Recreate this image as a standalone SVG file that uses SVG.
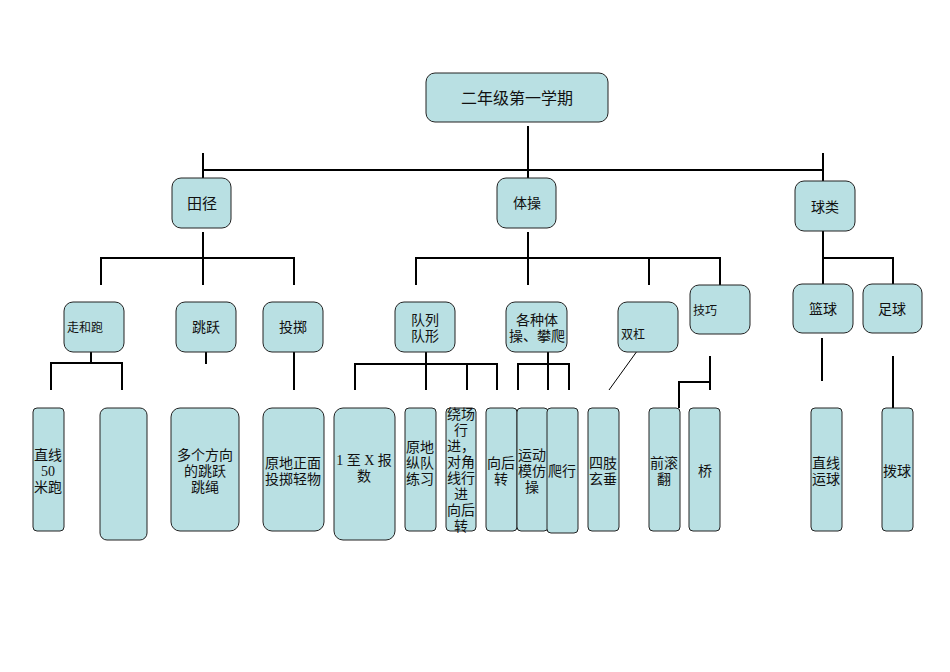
<svg xmlns="http://www.w3.org/2000/svg" width="950" height="672" viewBox="0 0 950 672">
<style>
rect{fill:#b9e0e3;stroke:#222;stroke-width:1}
text{font-family:"Liberation Serif","Noto Sans CJK SC",serif;font-size:14px;fill:#111;text-anchor:middle}
.s{font-size:12px;text-anchor:start}
.c line,.c polyline{stroke:#000;stroke-width:2;fill:none}
</style>
<rect width="950" height="672" style="fill:#fff;stroke:none"/>
<g class="c" id="connectors">
<line x1="528" y1="126" x2="528" y2="178"/>
<polyline points="203,153 203,178"/><polyline points="823,153 823,181"/>
<line x1="202" y1="170" x2="824" y2="170"/>
<line x1="203" y1="232" x2="203" y2="285"/><polyline points="101,285 101,258 294,258 294,285"/>
<line x1="528" y1="232" x2="528" y2="285"/><polyline points="416,285 416,258 720,258 720,285"/><line x1="649" y1="258" x2="649" y2="285"/>
<polyline points="823,231 823,284"/><polyline points="823,258 893,258 893,284"/>
<line x1="91" y1="338" x2="91" y2="363"/><polyline points="51,390 51,363 122,363 122,390"/>
<line x1="206" y1="338" x2="206" y2="364"/>
<line x1="294" y1="338" x2="294" y2="390"/>
<line x1="426" y1="338" x2="426" y2="390"/><polyline points="355,390 355,364 497,364 497,390"/><line x1="467" y1="364" x2="467" y2="390"/>
<line x1="548" y1="338" x2="548" y2="390"/><polyline points="518,390 518,364 569,364 569,390"/>
<line x1="640" y1="347" x2="609" y2="390" style="stroke-width:1"/>
<line x1="710" y1="356" x2="710" y2="390"/><polyline points="679,408 679,382 710,382"/>
<line x1="822" y1="338" x2="822" y2="381"/>
<line x1="893" y1="356" x2="893" y2="408"/>
</g>
<g id="root"><rect x="426" y="73" width="182" height="49" rx="9"/><text x="517" y="104" style="font-size:16px">二年级第一学期</text></g>
<g id="tianjing"><rect x="172" y="178" width="59" height="50" rx="9"/><text x="202" y="209" style="font-size:15px">田径</text></g>
<g id="ticao"><rect x="497" y="178" width="59" height="50" rx="9"/><text x="527" y="208">体操</text></g>
<g id="qiulei"><rect x="795" y="181" width="60" height="50" rx="9"/><text x="825" y="212">球类</text></g>
<g id="zouhepao"><rect x="64" y="302" width="60" height="50" rx="9"/><text class="s" x="67" y="332">走和跑</text></g>
<g id="tiaoyue"><rect x="176" y="302" width="60" height="50" rx="9"/><text x="206" y="332">跳跃</text></g>
<g id="touzhi"><rect x="263" y="302" width="60" height="50" rx="9"/><text x="293" y="332">投掷</text></g>
<g id="duilie"><rect x="395" y="302" width="60" height="50" rx="9"/><text x="425" y="325">队列</text><text x="425" y="341">队形</text></g>
<g id="gezhong"><rect x="506" y="302" width="61" height="50" rx="9"/><text x="537" y="325">各种体</text><text x="537" y="341">操、攀爬</text></g>
<g id="shuanggang"><rect x="618" y="302" width="60" height="50" rx="9"/><text class="s" x="621" y="339">双杠</text></g>
<g id="jiqiao"><rect x="690" y="285" width="60" height="49" rx="9"/><text class="s" x="693" y="315">技巧</text></g>
<g id="lanqiu"><rect x="793" y="284" width="60" height="49" rx="9"/><text x="823" y="314">篮球</text></g>
<g id="zuqiu"><rect x="863" y="284" width="59" height="49" rx="9"/><text x="892" y="314">足球</text></g>
<g id="leaf1"><rect x="33" y="408" width="31" height="123" rx="4"/><text x="48" y="460">直线</text><text x="48" y="476">50</text><text x="48" y="492">米跑</text></g>
<g id="leaf2"><rect x="100" y="408" width="47" height="132" rx="7"/></g>
<g id="leaf3"><rect x="171" y="408" width="68" height="123" rx="9"/><text x="205" y="460">多个方向</text><text x="205" y="476">的跳跃</text><text x="205" y="492">跳绳</text></g>
<g id="leaf4"><rect x="263" y="408" width="61" height="123" rx="9"/><text x="293" y="468">原地正面</text><text x="293" y="484">投掷轻物</text></g>
<g id="leaf5"><rect x="334" y="408" width="61" height="132" rx="9"/><text x="364" y="465">1 至 X 报</text><text x="364" y="481">数</text></g>
<g id="leaf6"><rect x="405" y="408" width="31" height="123" rx="4"/><text x="420" y="452">原地</text><text x="420" y="468">纵队</text><text x="420" y="484">练习</text></g>
<g id="leaf7"><rect x="446" y="408" width="30" height="123" rx="4"/><text x="461" y="419">绕场</text><text x="461" y="435">行</text><text x="461" y="451">进，</text><text x="461" y="467">对角</text><text x="461" y="483">线行</text><text x="461" y="499">进</text><text x="461" y="515">向后</text><text x="461" y="517" dy="14">转</text></g>
<g id="leaf8"><rect x="486" y="408" width="31" height="123" rx="4"/><text x="501" y="468">向后</text><text x="501" y="484">转</text></g>
<g id="leaf9"><rect x="517" y="408" width="31" height="123" rx="4"/><text x="532" y="460">运动</text><text x="532" y="476">模仿</text><text x="532" y="492">操</text></g>
<g id="leaf10"><rect x="547" y="408" width="31" height="125" rx="4"/><text x="562" y="476">爬行</text></g>
<g id="leaf11"><rect x="588" y="408" width="31" height="123" rx="4"/><text x="603" y="468">四肢</text><text x="603" y="484">玄垂</text></g>
<g id="leaf12"><rect x="649" y="408" width="31" height="123" rx="4"/><text x="664" y="468">前滚</text><text x="664" y="484">翻</text></g>
<g id="leaf13"><rect x="689" y="408" width="31" height="123" rx="4"/><text x="705" y="476">桥</text></g>
<g id="leaf14"><rect x="811" y="408" width="31" height="123" rx="4"/><text x="826" y="468">直线</text><text x="826" y="484">运球</text></g>
<g id="leaf15"><rect x="882" y="408" width="31" height="123" rx="4"/><text x="897" y="476">拨球</text></g>
</svg>
